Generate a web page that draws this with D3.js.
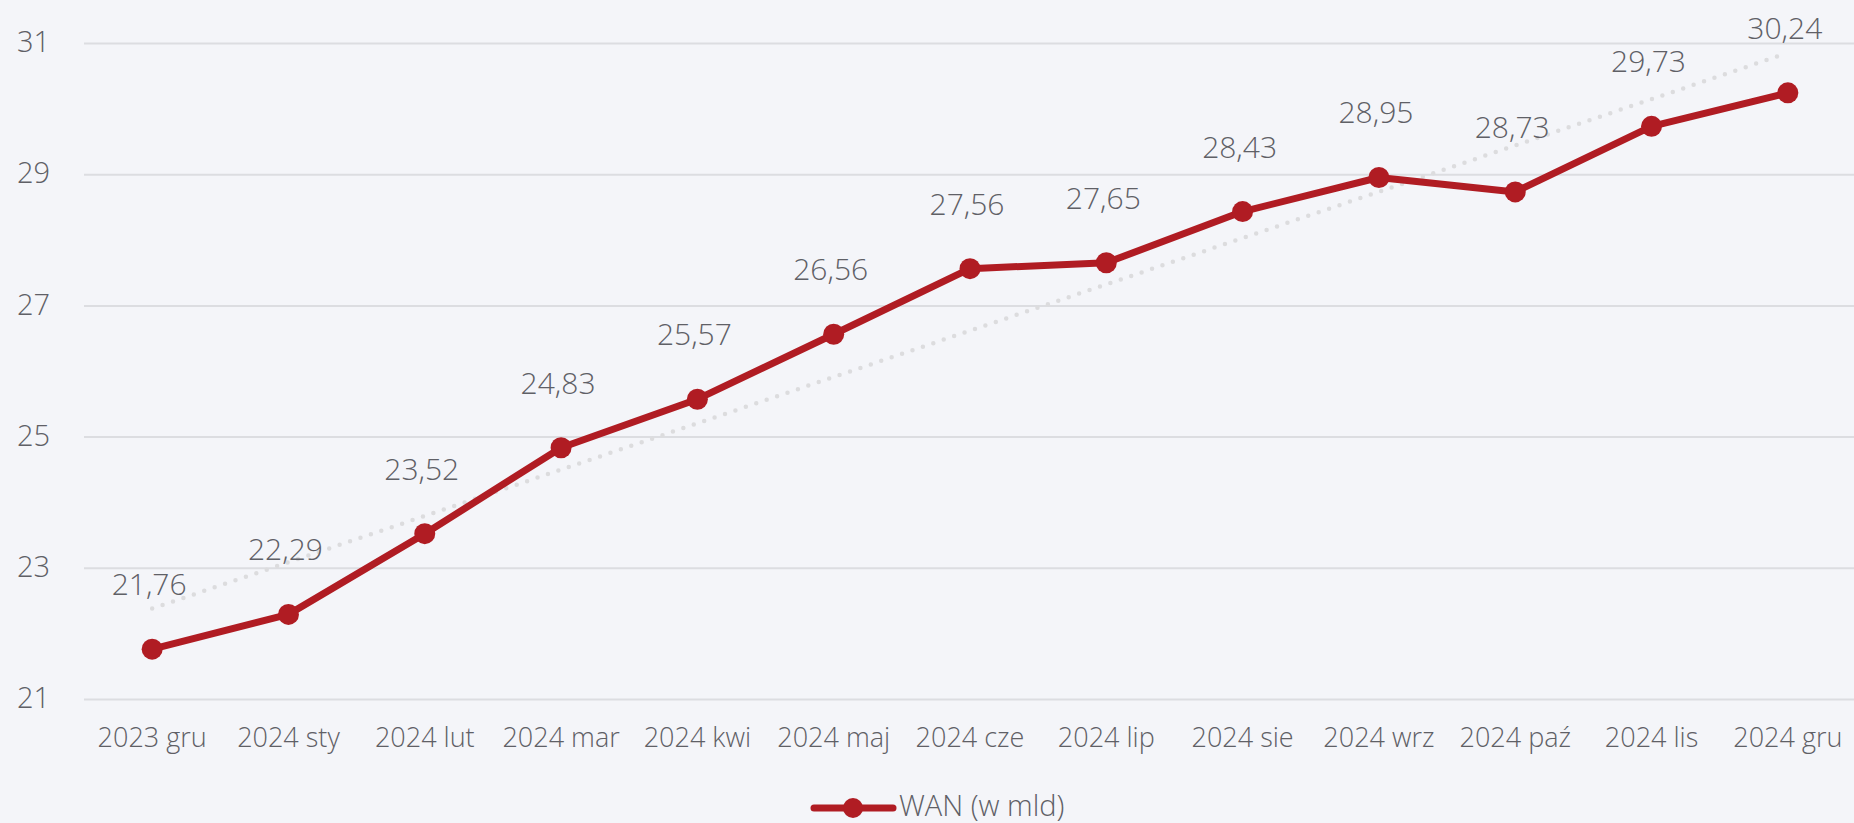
<!DOCTYPE html>
<html>
<head>
<meta charset="utf-8">
<script src="https://cdn.jsdelivr.net/npm/d3@7"></script>
<style>
  html, body { margin: 0; padding: 0; background: #f4f5f9; }
  svg { display: block; }
  text { font-family: "Open Sans", "DejaVu Sans", sans-serif; font-weight: 300; fill: #5f6066; }
</style>
</head>
<body>
<svg id="chart"></svg>
<script>
// Data
const months = ['2023 gru', '2024 sty', '2024 lut', '2024 mar', '2024 kwi', '2024 maj', '2024 cze',
                '2024 lip', '2024 sie', '2024 wrz', '2024 paź', '2024 lis', '2024 gru'];
const wan = [21.76, 22.29, 23.52, 24.83, 25.57, 26.56, 27.56, 27.65, 28.43, 28.95, 28.73, 29.73, 30.24];
const yTicks = [21, 23, 25, 27, 29, 31];
const seriesName = 'WAN (w mld)';

const width = 1854;
const height = 823;
const red = '#b01c23';

const svg = d3.select('#chart').attr('width', width).attr('height', height);

// Scales
const x = d3.scaleBand().domain(months).range([84, 1856]).padding(0);
const cx = d => x(d) + x.bandwidth() / 2;
const y = d3.scaleLinear().domain([21, 31]).range([699, 43]);

// Gridlines + y labels
const yAxis = d3.axisLeft(y).tickValues(yTicks).tickSize(-(width - 84)).tickFormat(d3.format('d'));
const gy = svg.append('g').attr('transform', 'translate(84,0)').call(yAxis);
gy.select('.domain').remove();
gy.selectAll('.tick line').attr('stroke', '#dcdde1').attr('stroke-width', 2);
gy.selectAll('.tick text')
  .attr('x', -67).attr('dy', '0.3em')
  .attr('text-anchor', 'start')
  .style('font-size', '29px').style('fill', '#5f6066');

// X labels
const xAxis = d3.axisBottom(x).tickSize(0).tickPadding(0);
const gx = svg.append('g').attr('transform', 'translate(0,747)').call(xAxis);
gx.select('.domain').remove();
gx.selectAll('.tick text')
  .attr('y', 0).attr('dy', 0)
  .style('font-size', '27px').style('fill', '#5f6066');

// Trend line (least squares fit)
const idx = wan.map((_, i) => i);
const mx = d3.mean(idx), my = d3.mean(wan);
const slope = d3.sum(idx, i => (i - mx) * (wan[i] - my)) / d3.sum(idx, i => (i - mx) ** 2);
const icpt = my - slope * mx;
const trendX = [0, months.length - 1];
svg.append('path')
  .datum(trendX)
  .attr('fill', 'none')
  .attr('stroke', '#dcdcde')
  .attr('stroke-width', 4.5)
  .attr('stroke-linecap', 'round')
  .attr('stroke-dasharray', '0 11')
  .attr('d', d3.line().x(i => cx(months[i]) - (i ? 5 : 0)).y(i => y(icpt + slope * i)));

// Series line
const pts = months.map((m, i) => ({ m, v: wan[i] }));
svg.append('path')
  .datum(pts)
  .attr('fill', 'none')
  .attr('stroke', red)
  .attr('stroke-width', 7)
  .attr('stroke-linejoin', 'round')
  .attr('d', d3.line().x(d => cx(d.m)).y(d => y(d.v)));

svg.append('g').selectAll('circle')
  .data(pts)
  .join('circle')
  .attr('cx', d => cx(d.m))
  .attr('cy', d => y(d.v))
  .attr('r', 10.5)
  .attr('fill', red);

// Data labels
svg.append('g').selectAll('text')
  .data(pts)
  .join('text')
  .attr('x', d => cx(d.m) - 3)
  .attr('y', d => y(d.v) - 54)
  .attr('text-anchor', 'middle')
  .style('font-size', '30px')
  .text(d => d3.format('.2f')(d.v).replace('.', ','));

// Legend
const lg = svg.append('g').attr('transform', 'translate(814,808)');
lg.append('line').attr('x1', 0).attr('x2', 79).attr('y1', 0).attr('y2', 0)
  .attr('stroke', red).attr('stroke-width', 7).attr('stroke-linecap', 'round');
lg.append('circle').attr('cx', 39).attr('cy', 0).attr('r', 10).attr('fill', red);
lg.append('text').attr('x', 85).attr('y', 8).style('font-size', '29px').text(seriesName);
</script>
</body>
</html>
